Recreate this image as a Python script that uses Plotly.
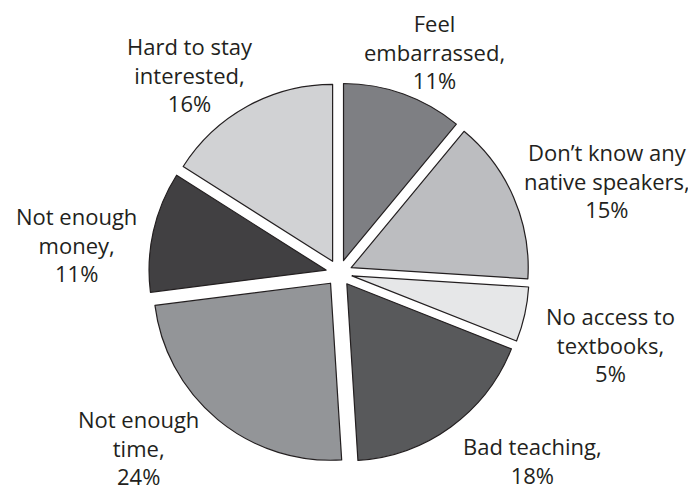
import math
import plotly.graph_objects as go

labels = ["Feel<br>embarrassed", "Don\u2019t know any<br>native speakers",
          "No access to<br>textbooks", "Bad teaching",
          "Not enough<br>time", "Not enough<br>money",
          "Hard to stay<br>interested"]
values = [11, 15, 5, 18, 24, 11, 16]
colors = ["#7e7f83", "#bcbdc0", "#e6e7e8", "#58595b", "#939598", "#414042", "#d1d2d4"]

# label placement (layout only): distance from pie centre in px, angular nudge in degrees
label_dist = [241, 284, 281, 269, 266, 264, 248]
label_nudge = [3.5, 4.3, 2.2, -9.9, 9.4, -6.5, -8.2]

W, H = 696, 490
dom_x = [0.2022, 0.7490]
dom_y = [0.0708, 0.8476]

fig = go.Figure(go.Pie(
    labels=[l.replace("<br>", " ") for l in labels],
    values=values,
    textinfo="none",
    sort=False,
    direction="clockwise",
    rotation=0,
    pull=0.075,
    marker=dict(colors=colors, line=dict(color="#231f20", width=1.2)),
    domain=dict(x=dom_x, y=dom_y),
    showlegend=False,
    hoverinfo="label+percent",
))

cx = (dom_x[0] + dom_x[1]) / 2 * W
cy = (1 - (dom_y[0] + dom_y[1]) / 2) * H
total = sum(values)
cum = 0
annotations = []
for lab, v, d, nudge in zip(labels, values, label_dist, label_nudge):
    mid = (cum + v / 2) / total * 360
    cum += v
    a = math.radians(mid + nudge)
    px = cx + d * math.sin(a)
    py = cy - d * math.cos(a)
    annotations.append(dict(
        x=px / W, y=1 - py / H, xref="paper", yref="paper",
        text=f"{lab},<br>{v}%", showarrow=False,
        xanchor="center", yanchor="middle", align="center",
        borderpad=0,
        font=dict(family="Open Sans", size=22, color="#231f20"),
    ))

fig.update_layout(
    width=W, height=H,
    margin=dict(l=0, r=0, t=0, b=0),
    paper_bgcolor="white", plot_bgcolor="white",
    annotations=annotations,
)
fig.write_html("out.html")
